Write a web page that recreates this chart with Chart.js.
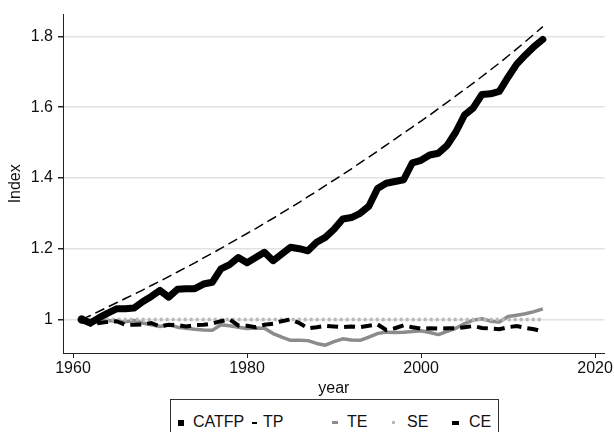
<!DOCTYPE html>
<html>
<head>
<meta charset="utf-8">
<script src="https://cdn.jsdelivr.net/npm/chart.js@4"></script>
<style>
  html, body { margin: 0; padding: 0; background: #fff; }
  #wrap { position: relative; width: 614px; height: 432px; font-family: "Liberation Sans", Arial, sans-serif; }
  #legend { position: absolute; left: 170px; top: 399px; width: 327px; height: 40px; border: 1px solid #333; background: #fff; }
  #legend span { position: absolute; font-size: 16px; color: #111; line-height: 16px; top: 14px; }
  #legend i { position: absolute; display: block; }
</style>
</head>
<body>
<div id="wrap">
  <canvas id="tfpChart" width="614" height="432"></canvas>
  <div id="legend">
    <i style="left:7px;top:20px;width:6px;height:6px;background:#000"></i><span style="left:22px">CATFP</span>
    <i style="left:81px;top:22px;width:5px;height:1.5px;background:#000"></i><span style="left:92px">TP</span>
    <i style="left:161px;top:21px;width:6px;height:3px;background:#8c8c8c"></i><span style="left:176px">TE</span>
    <i style="left:221px;top:21px;width:3px;height:3px;background:#b8b8b8"></i><span style="left:236px">SE</span>
    <i style="left:281px;top:20.5px;width:7px;height:4px;background:#000"></i><span style="left:298px">CE</span>
  </div>
</div>
<script>
// 数据
const years = [];
for (let y = 1961; y <= 2014; y++) years.push(y);

const catfp = [1.000, 0.990, 1.005, 1.018, 1.030, 1.030, 1.032, 1.050, 1.065, 1.082,
               1.063, 1.085, 1.087, 1.087, 1.100, 1.105, 1.143, 1.155, 1.175, 1.160,
               1.175, 1.190, 1.166, 1.185, 1.204, 1.200, 1.194, 1.218, 1.232, 1.255,
               1.284, 1.288, 1.300, 1.320, 1.370, 1.385, 1.390, 1.395, 1.443, 1.450,
               1.465, 1.470, 1.492, 1.530, 1.578, 1.598, 1.636, 1.638, 1.645, 1.685,
               1.722, 1.748, 1.772, 1.792];

const tp = [1.000, 1.011, 1.023, 1.035, 1.047, 1.059, 1.071, 1.083, 1.096, 1.108,
            1.121, 1.134, 1.147, 1.160, 1.174, 1.187, 1.201, 1.215, 1.229, 1.243,
            1.257, 1.272, 1.286, 1.301, 1.316, 1.331, 1.347, 1.362, 1.378, 1.394,
            1.410, 1.426, 1.443, 1.459, 1.476, 1.493, 1.510, 1.527, 1.544, 1.561,
            1.578, 1.596, 1.614, 1.632, 1.650, 1.668, 1.687, 1.706, 1.725, 1.745,
            1.765, 1.786, 1.807, 1.828];

const te = [1.000, 0.990, 0.995, 0.997, 0.995, 0.993, 0.997, 0.990, 0.985, 0.980,
            0.985, 0.978, 0.975, 0.972, 0.970, 0.969, 0.985, 0.982, 0.978, 0.974,
            0.976, 0.975, 0.960, 0.950, 0.941, 0.941, 0.940, 0.932, 0.927, 0.937,
            0.945, 0.942, 0.941, 0.950, 0.960, 0.964, 0.963, 0.964, 0.966, 0.968,
            0.963, 0.957, 0.966, 0.975, 0.988, 0.998, 1.002, 0.995, 0.993, 1.008,
            1.012, 1.016, 1.022, 1.030];

const se = [1.000, 1.000, 1.000, 1.000, 1.000, 1.000, 1.000, 1.000, 1.000, 1.000,
            1.000, 1.000, 1.000, 1.000, 1.000, 1.000, 1.000, 1.000, 1.000, 1.000,
            1.000, 1.000, 1.000, 1.000, 1.000, 1.000, 1.000, 1.000, 1.000, 1.000,
            1.000, 1.000, 1.000, 1.000, 1.000, 1.000, 1.000, 1.000, 1.000, 1.000,
            1.000, 1.000, 1.000, 1.000, 1.000, 1.000, 1.000, 1.000, 1.000, 1.000,
            1.000, 1.000, 1.000, 1.000];

const ce = [1.000, 0.985, 0.990, 0.993, 0.995, 0.985, 0.985, 0.986, 0.990, 0.980,
            0.985, 0.984, 0.980, 0.984, 0.985, 0.988, 0.995, 1.000, 0.983, 0.982,
            0.978, 0.985, 0.988, 0.995, 1.000, 0.990, 0.975, 0.978, 0.982, 0.980,
            0.978, 0.980, 0.978, 0.982, 0.986, 0.970, 0.975, 0.983, 0.978, 0.974,
            0.975, 0.974, 0.975, 0.975, 0.978, 0.981, 0.976, 0.974, 0.972, 0.978,
            0.981, 0.976, 0.972, 0.966];

const xTicks = [1960, 1980, 2000, 2020];
const yTicks = [1, 1.2, 1.4, 1.6, 1.8];

const pts = arr => years.map((y, i) => ({ x: y, y: arr[i] }));
const font = { family: '"Liberation Sans", Arial, sans-serif', size: 16 };

const ctx = document.getElementById('tfpChart').getContext('2d');
const chart = new Chart(ctx, {
    type: 'line',
    data: {
        datasets: [
            { label: 'CATFP', data: pts(catfp), borderColor: '#000', borderWidth: 7,
              borderJoinStyle: 'round', borderCapStyle: 'round', pointRadius: 0 },
            { label: 'TP', data: pts(tp), borderColor: '#000', borderWidth: 1.5,
              borderDash: [10, 5], pointRadius: 0 },
            { label: 'CE', data: pts(ce), borderColor: '#000', borderWidth: 4,
              borderDash: [11, 6], pointRadius: 0 },
            { label: 'SE', data: pts(se), borderColor: '#b8b8b8', borderWidth: 3.5,
              borderDash: [3, 3], pointRadius: 0 },
            { label: 'TE', data: pts(te), borderColor: '#8c8c8c', borderWidth: 3.5,
              borderJoinStyle: 'round',
              pointRadius: c => c.dataIndex === 0 ? 3.5 : 0,
              pointBackgroundColor: '#aaa', pointBorderColor: '#222', pointBorderWidth: 1.5 }
        ]
    },
    options: {
        responsive: false,
        animation: false,
        layout: { padding: { left: 0, right: 9, top: 13, bottom: 34 } },
        plugins: { legend: { display: false }, tooltip: { enabled: false } },
        scales: {
            x: {
                type: 'linear',
                min: 1958.85,
                max: 2021.1,
                afterBuildTicks: s => { s.ticks = xTicks.map(v => ({ value: v })); },
                afterFit: s => { s.height = 45; },
                border: { display: true, color: '#222', width: 1 },
                grid: { drawOnChartArea: false, tickColor: '#222', tickLength: 5 },
                ticks: { font: font, color: '#111', padding: 1, maxRotation: 0,
                         callback: v => String(v) },
                title: { display: true, text: 'year', font: font, color: '#111',
                         padding: { top: 0, bottom: 0 } }
            },
            y: {
                min: 0.905,
                max: 1.862,
                afterBuildTicks: s => { s.ticks = yTicks.map(v => ({ value: v })); },
                afterFit: s => { s.width = 63; },
                border: { display: true, color: '#222', width: 1 },
                grid: { color: '#e2e2e2', lineWidth: 1.5, tickColor: '#222', tickLength: 5 },
                ticks: { font: font, color: '#111', padding: 5, callback: v => String(v) },
                title: { display: true, text: 'Index', font: font, color: '#111',
                         padding: { top: 6, bottom: 0 } }
            }
        }
    }
});
</script>
</body>
</html>
